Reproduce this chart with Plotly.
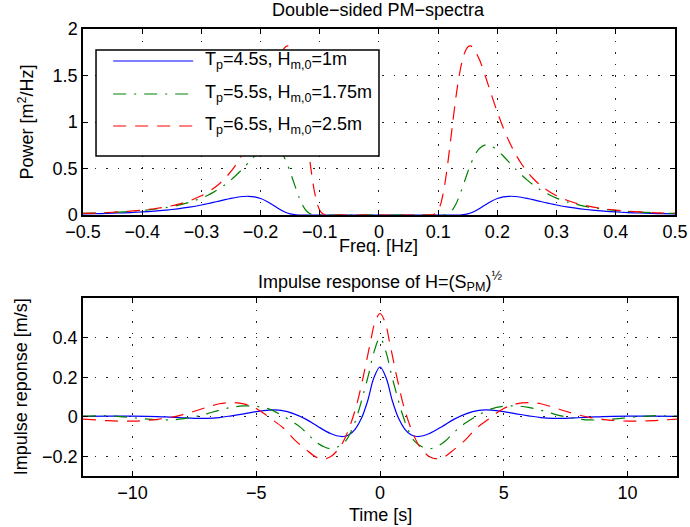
import plotly.graph_objects as go

# ---------------- data ----------------
# Double-sided PM spectra (positive half; the negative half mirrors it)
freq_blue = [0, 0.05, 0.10, 0.12, 0.13, 0.14, 0.15, 0.16, 0.17, 0.18, 0.19, 0.20, 0.21, 0.22,
             0.23, 0.24, 0.25, 0.26, 0.27, 0.28, 0.29, 0.30, 0.32, 0.34, 0.36, 0.38, 0.40,
             0.42, 0.44, 0.46, 0.48, 0.50]
spec_blue = [0, 0, 0, 0, 0.0002, 0.0025, 0.0122, 0.0347, 0.0698, 0.1105, 0.1483, 0.1771, 0.1946,
             0.2012, 0.1991, 0.1909, 0.1788, 0.1646, 0.1496, 0.1348, 0.1207, 0.1076, 0.0849,
             0.0667, 0.0525, 0.0415, 0.0330, 0.0264, 0.0213, 0.0173, 0.0141, 0.0116]

freq_green = [0, 0.05, 0.10, 0.11, 0.115, 0.12, 0.125, 0.13, 0.135, 0.14, 0.145, 0.15, 0.155,
              0.16, 0.165, 0.17, 0.18, 0.19, 0.20, 0.21, 0.22, 0.23, 0.24, 0.25, 0.26, 0.27,
              0.28, 0.29, 0.30, 0.32, 0.34, 0.36, 0.38, 0.40, 0.42, 0.44, 0.46, 0.48, 0.50]
spec_green = [0, 0, 0, 0.0029, 0.0105, 0.0289, 0.0636, 0.1180, 0.1908, 0.2776, 0.3712, 0.4635,
              0.5482, 0.6203, 0.6770, 0.7176, 0.7532, 0.7404, 0.6958, 0.6343, 0.5663, 0.4986,
              0.4351, 0.3775, 0.3264, 0.2818, 0.2433, 0.2102, 0.1818, 0.1368, 0.1039, 0.0797,
              0.0618, 0.0484, 0.0383, 0.0306, 0.0246, 0.0200, 0.0164]

freq_red = [0, 0.05, 0.08, 0.09, 0.095, 0.10, 0.105, 0.11, 0.115, 0.12, 0.125, 0.13, 0.135,
            0.14, 0.145, 0.15, 0.155, 0.16, 0.17, 0.18, 0.19, 0.20, 0.21, 0.22, 0.23, 0.24,
            0.25, 0.26, 0.27, 0.28, 0.29, 0.30, 0.32, 0.34, 0.36, 0.38, 0.40, 0.42, 0.44,
            0.46, 0.48, 0.50]
spec_red = [0, 0, 0, 0.002, 0.013, 0.050, 0.135, 0.285, 0.496, 0.751, 1.018, 1.270, 1.482,
            1.644, 1.751, 1.807, 1.818, 1.793, 1.666, 1.486, 1.291, 1.104, 0.935, 0.787,
            0.662, 0.556, 0.468, 0.395, 0.334, 0.284, 0.242, 0.207, 0.153, 0.114, 0.087,
            0.067, 0.052, 0.041, 0.033, 0.026, 0.021, 0.017]

# Impulse responses (t >= 0; the response is even in t)
time_blue = [0, 0.25, 0.5, 0.75, 1.0, 1.25, 1.5, 1.75, 2.0, 2.5, 3.0, 3.5, 4.0, 4.25, 4.5,
             5.0, 5.5, 6.0, 6.5, 7.0, 7.5, 8.0, 8.5, 9.0, 10.0, 11.0, 12.0]
imp_blue = [0.252, 0.196, 0.080, -0.008, -0.062, -0.091, -0.100, -0.096, -0.085, -0.050,
            -0.012, 0.016, 0.032, 0.035, 0.034, 0.026, 0.015, 0.005, -0.004, -0.008, -0.008,
            -0.005, -0.002, 0.001, 0.003, 0.003, 0.002]

time_green = [0, 0.25, 0.45, 0.65, 0.9, 1.15, 1.4, 1.7, 2.0, 2.3, 2.6, 2.9, 3.2, 3.5, 4.0,
              4.5, 5.0, 5.5, 6.0, 6.5, 7.0, 7.5, 8.0, 8.5, 9.0, 9.5, 10.0, 10.5, 11.0, 11.5, 12.0]
imp_green = [0.400, 0.325, 0.220, 0.125, 0.015, -0.070, -0.125, -0.152, -0.162, -0.150,
             -0.127, -0.090, -0.055, -0.028, 0.010, 0.040, 0.053, 0.055, 0.048, 0.033, 0.015,
             0.000, -0.011, -0.016, -0.015, -0.011, -0.005, 0.001, 0.005, 0.005, 0.003]

time_red = [0, 0.2, 0.4, 0.7, 1.0, 1.35, 1.6, 2.0, 2.3, 2.6, 3.0, 3.45, 3.9, 4.4, 5.0, 5.5,
            6.0, 6.5, 7.0, 7.5, 8.0, 8.5, 9.0, 9.5, 10.0, 10.5, 11.0, 11.5, 12.0]
imp_red = [0.523, 0.480, 0.370, 0.190, 0.035, -0.090, -0.150, -0.203, -0.213, -0.203, -0.165,
           -0.117, -0.058, -0.010, 0.042, 0.065, 0.072, 0.066, 0.048, 0.028, 0.010, -0.004,
           -0.013, -0.019, -0.022, -0.022, -0.020, -0.016, -0.012]

legend_labels = ["T<sub>p</sub>=4.5s, H<sub>m,0</sub>=1m",
                 "T<sub>p</sub>=5.5s, H<sub>m,0</sub>=1.75m",
                 "T<sub>p</sub>=6.5s, H<sub>m,0</sub>=2.5m"]

freq_ticks = [-0.5, -0.4, -0.3, -0.2, -0.1, 0, 0.1, 0.2, 0.3, 0.4, 0.5]
freq_ticktext = ["−0.5", "−0.4", "−0.3", "−0.2", "−0.1", "0", "0.1", "0.2", "0.3", "0.4", "0.5"]
power_ticks = [0, 0.5, 1, 1.5, 2]
power_ticktext = ["0", "0.5", "1", "1.5", "2"]
time_ticks = [-10, -5, 0, 5, 10]
time_ticktext = ["−10", "−5", "0", "5", "10"]
imp_ticks = [-0.2, 0, 0.2, 0.4]
imp_ticktext = ["−0.2", "0", "0.2", "0.4"]


def mirror(x, y):
    """Both halves of an even curve from its t>=0 (or f>=0) half."""
    return [-v for v in reversed(x[1:])] + list(x), list(reversed(y[1:])) + list(y)


# ---------------- styles ----------------
FONT = "Liberation Sans, Arial, Helvetica, sans-serif"
BLUE, GREEN, RED = "#0000ff", "#008000", "#ff0000"
DASH_RED = "13px,9px"
DASH_GREEN = "13px,8px,2px,8px"
styles = [(BLUE, "solid"), (GREEN, DASH_GREEN), (RED, DASH_RED)]

fig = go.Figure()

spectra = [(freq_blue, spec_blue), (freq_green, spec_green), (freq_red, spec_red)]
for (fx, fy), (col, dash) in zip(spectra, styles):
    xx, yy = mirror(fx, fy)
    fig.add_trace(go.Scatter(x=xx, y=yy, mode="lines", xaxis="x", yaxis="y",
                             line=dict(color=col, width=1.2, dash=dash, shape="spline", smoothing=0.6),
                             showlegend=False, hoverinfo="skip"))

impulses = [(time_blue, imp_blue), (time_green, imp_green), (time_red, imp_red)]
for (tx, ty), (col, dash) in zip(impulses, styles):
    xx, yy = mirror(tx, ty)
    fig.add_trace(go.Scatter(x=xx, y=yy, mode="lines", xaxis="x2", yaxis="y2",
                             line=dict(color=col, width=1.2, dash=dash, shape="spline", smoothing=1.0),
                             showlegend=False, hoverinfo="skip"))

axis_common = dict(showline=True, linecolor="black", linewidth=1.5, mirror="ticks",
                   ticks="inside", ticklen=5, tickwidth=1, tickcolor="black",
                   showgrid=True, gridcolor="#222222", gridwidth=1, griddash="1.5px,10px",
                   zeroline=False, automargin=False,
                   tickfont=dict(family=FONT, size=18, color="black"))

fig.update_layout(
    width=690, height=527,
    margin=dict(l=83, r=13, t=29, b=51),
    paper_bgcolor="white", plot_bgcolor="white",
    font=dict(family=FONT, size=18, color="black"),
    showlegend=False,
    xaxis=dict(domain=[0, 0.9966], anchor="y", range=[-0.5, 0.5],
               tickmode="array", tickvals=freq_ticks, ticktext=freq_ticktext, **axis_common),
    yaxis=dict(domain=[0.5839, 1], anchor="x", range=[0, 2],
               tickmode="array", tickvals=power_ticks, ticktext=power_ticktext, **axis_common),
    xaxis2=dict(domain=[0, 1], anchor="y2", range=[-12, 12],
                tickmode="array", tickvals=time_ticks, ticktext=time_ticktext, **axis_common),
    yaxis2=dict(domain=[0, 0.3975], anchor="x2", range=[-0.3, 0.6],
                tickmode="array", tickvals=imp_ticks, ticktext=imp_ticktext, **axis_common),
)

# titles and axis labels
texts = [
    dict(text="Double−sided PM−spectra", x=0.498, y=1.043, textangle=0),
    dict(text="Freq. [Hz]", x=0.498, y=0.515, textangle=0),
    dict(text="Impulse response of H=(S<sub>PM</sub>)<sup>½</sup>", x=0.5, y=0.436, textangle=0),
    dict(text="Time [s]", x=0.5, y=-0.087, textangle=0),
    dict(text="Power [m<sup>2</sup>/Hz]", x=-0.095, y=0.792, textangle=-90),
    dict(text="Impulse reponse [m/s]", x=-0.104, y=0.199, textangle=-90),
]
for t in texts:
    fig.add_annotation(xref="paper", yref="paper", showarrow=False,
                       xanchor="center", yanchor="middle",
                       font=dict(family=FONT, size=18, color="black"), **t)

# legend box (drawn manually, MATLAB style) in top-axes coordinates
fig.add_shape(type="rect", xref="x", yref="y", x0=-0.478, x1=0.0, y0=0.634, y1=1.774,
              line=dict(color="black", width=1.5), fillcolor="white", layer="above")
legend_rows = [1.656, 1.301, 0.957]
for lab, yrow, (col, dash) in zip(legend_labels, legend_rows, styles):
    fig.add_shape(type="line", xref="x", yref="y", x0=-0.449, x1=-0.314, y0=yrow, y1=yrow,
                  line=dict(color=col, width=1.2, dash=dash), layer="above")
    fig.add_annotation(xref="x", yref="y", x=-0.297, y=yrow + 0.01, showarrow=False,
                       xanchor="left", yanchor="middle", text=lab,
                       font=dict(family=FONT, size=18, color="black"))

# Remove the browser's default 8px body margin so the 690x527 figure fills the window.
fig.write_html("out.html",
               config={"displayModeBar": False},
               post_script="document.body.style.margin='0px';"
                           "document.documentElement.style.overflow='hidden';")
